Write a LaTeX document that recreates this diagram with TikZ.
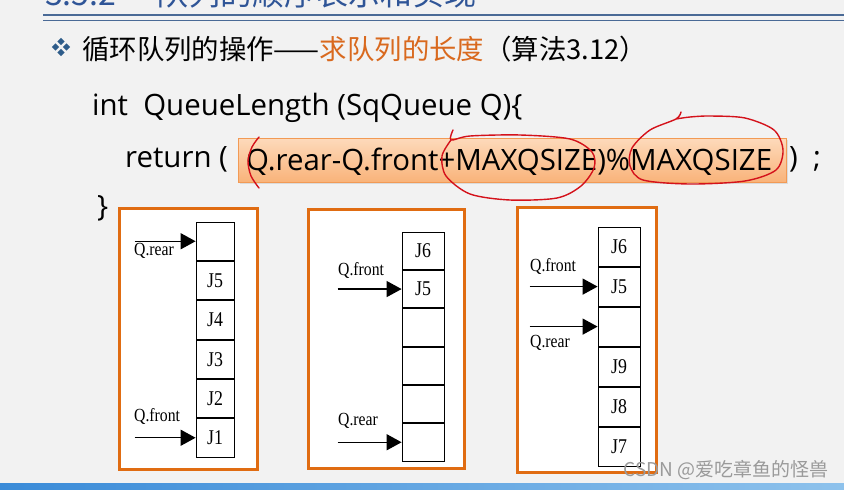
\documentclass[tikz,border=0pt]{standalone}
\usepackage{fontspec}
\setmainfont{Open Sans}
\newfontfamily\cjk{Noto Sans CJK SC}
\newfontfamily\codefont{Open Sans}
\newfontfamily\labelfont[FakeStretch=0.85]{Liberation Serif}
\usetikzlibrary{arrows.meta,shadows,positioning}
\definecolor{bg}{HTML}{F2F2F2}
\definecolor{lineblue}{HTML}{4A6A96}
\definecolor{titleblue}{HTML}{2F5597}
\definecolor{bulletblue}{HTML}{2E5C8A}
\definecolor{orangetxt}{HTML}{D9691E}
\definecolor{frameorange}{HTML}{E06C12}
\definecolor{boxtop}{HTML}{FDDABB}
\definecolor{boxbot}{HTML}{F9B37A}
\definecolor{boxedge}{HTML}{F29A55}
\definecolor{penred}{HTML}{D4121B}
\definecolor{wmgray}{HTML}{9A9A9A}
\definecolor{barleft}{HTML}{3A8BD8}
\definecolor{barright}{HTML}{8EC2EC}
\tikzset{
  panel/.style={draw=frameorange, line width=3pt, fill=white,
    drop shadow={opacity=0.25, shadow xshift=2pt, shadow yshift=-2pt}},
  cellA/.style={draw, line width=0.8pt, minimum width=38pt, minimum height=38.5pt, inner sep=0pt, font=\labelfont\fontsize{21}{23}\selectfont},
  cellB/.style={cellA, minimum width=42pt, minimum height=37.5pt},
  cellC/.style={cellA, minimum width=42pt, minimum height=39.2pt},
  ptr/.style={line width=1.4pt, -{Triangle[length=15pt,width=16pt]}},
  qlabel/.style={anchor=west, inner sep=0pt, font=\labelfont\fontsize{18.5}{20}\selectfont},
  pen/.style={penred, line width=1.4pt, line cap=round, line join=round},
  txt/.style={anchor=base west, inner sep=0pt},
  codetxt/.style={txt, font=\codefont\fontsize{29.4}{32}\selectfont},
  diam/.style={bulletblue, fill},
}
\begin{document}
\begin{tikzpicture}[x=1pt,y=-1pt]
\useasboundingbox (0,0) rectangle (844,490);
\clip (0,0) rectangle (844,490);
\fill[bg] (0,0) rectangle (844,490);
% title (cut off at the top edge, as in the reference)
\node[txt, text=titleblue, font=\cjk\fontsize{32}{34}\selectfont] (title) at (45,5) {3.5.2\hspace{40pt}队列的顺序表示和实现};
\draw[lineblue, line width=2pt] (43,15) -- (844,15);
\draw[lineblue, line width=1pt] (43,20) -- (844,20);
% bullet
\foreach \dx/\dy in {0/-5.5, -5.5/0, 5.5/0, 0/5.5}
  \fill[diam] (61+\dx,47+\dy) +(0,-3.6) -- +(3.6,0) -- +(0,3.6) -- +(-3.6,0) -- cycle;
\node[txt, font=\cjk\fontsize{27.4}{30}\selectfont] (head) at (82,59)
  {循环队列的操作——\textcolor{orangetxt}{求队列的长度}（算法3.12）};
\node[codetxt] (sig) at (92,115) {int\ \ QueueLength (SqQueue Q)\{};
\node[codetxt] (ret) at (125,167) {return (};
\shade[top color=boxtop, bottom color=boxbot, drop shadow={opacity=0.2, shadow xshift=1.5pt, shadow yshift=-1.5pt}]
  (238,138) rectangle (786,182);
\draw[boxedge, line width=0.8pt] (238,138) rectangle (786,182);
\node[codetxt] (expr) at (246,170) {Q.rear-Q.front+MAXQSIZE)\%MAXQSIZE};
\node[codetxt] (close) at (789,167) {)\ \ ;};
\node[codetxt] (brace) at (97,216) {\}};
% red pen marks
\draw[pen] plot[smooth] coordinates {(259,137) (252,147) (248,161) (251,176) (259,188)};
\draw[pen] plot[smooth] coordinates {(453,130) (451,140) (470,136) (520,135) (570,139) (592,152) (594,168) (581,186) (557,198) (510,200) (470,194) (446,176) (442,156) (451,140)};
\draw[pen] plot[smooth] coordinates {(681,112) (676,119) (650,130) (632,148) (630,166) (643,180) (690,184) (745,181) (776,170) (783,150) (774,130) (745,118) (710,116) (690,117) (676,119)};
% panel 1
\draw[panel] (119,208) rectangle (257,469);
\node[cellA] (a1) at (215,241.25) {};
\node[cellA, below=0pt of a1] (a2) {J5};
\node[cellA, below=0pt of a2] (a3) {J4};
\node[cellA, below=0pt of a3] (a4) {J3};
\node[cellA, below=0pt of a4] (a5) {J2};
\node[cellA, below=0pt of a5] (a6) {J1};
\coordinate (ar) at ([xshift=-61pt]a1.west);
\coordinate (af) at ([xshift=-61pt]a6.west);
\draw[ptr] (ar) -- (a1.west);
\draw[ptr] (af) -- (a6.west);
\node[qlabel] (arl) at (134,251) {Q.rear};
\node[qlabel] (afl) at (134,416) {Q.front};
% panel 2
\draw[panel] (308,209) rectangle (464,468);
\node[cellB] (b1) at (423,250.75) {J6};
\node[cellB, below=0pt of b1] (b2) {J5};
\node[cellB, below=0pt of b2] (b3) {};
\node[cellB, below=0pt of b3] (b4) {};
\node[cellB, below=0pt of b4] (b5) {};
\node[cellB, below=0pt of b5] (b6) {};
\coordinate (bf) at ([xshift=-64pt]b2.west);
\coordinate (br) at ([xshift=-64pt]b6.west);
\draw[ptr] (bf) -- (b2.west);
\draw[ptr] (br) -- (b6.west);
\node[qlabel] (bfl) at (338,270) {Q.front};
\node[qlabel] (brl) at (338,421) {Q.rear};
% panel 3
\draw[panel] (517,207) rectangle (656,472);
\node[cellC] (c1) at (619,246.6) {J6};
\node[cellC, below=0pt of c1] (c2) {J5};
\node[cellC, below=0pt of c2] (c3) {};
\node[cellC, below=0pt of c3] (c4) {J9};
\node[cellC, below=0pt of c4] (c5) {J8};
\node[cellC, below=0pt of c5] (c6) {J7};
\coordinate (cf) at ([xshift=-68pt]c2.west);
\coordinate (cr) at ([xshift=-68pt]c3.west);
\draw[ptr] (cf) -- (c2.west);
\draw[ptr] (cr) -- (c3.west);
\node[qlabel] (cfl) at (530,266) {Q.front};
\node[qlabel] (crl) at (530,343) {Q.rear};
% watermark and bottom bar
\node[anchor=east, inner sep=0pt, text=wmgray, font=\cjk\fontsize{19}{21}\selectfont] (wm) at (829,470) {CSDN @爱吃章鱼的怪兽};
\shade[left color=barleft, right color=barright] (0,483) rectangle (844,490);
\end{tikzpicture}
\end{document}
